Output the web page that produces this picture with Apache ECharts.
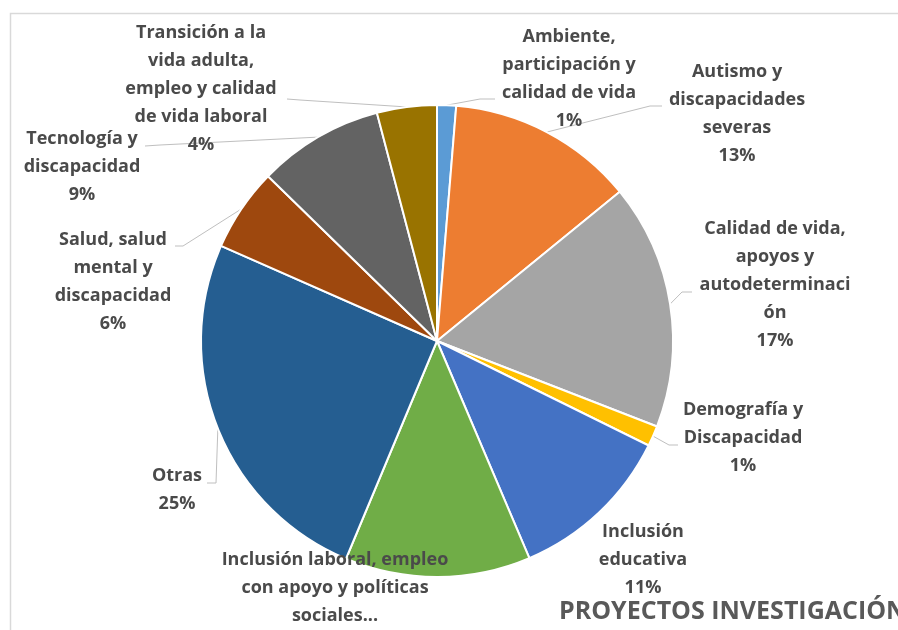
<!DOCTYPE html>
<html>
<head>
<meta charset="utf-8">
<script src="https://cdn.jsdelivr.net/npm/echarts@6/dist/echarts.min.js"></script>
<style>html,body{margin:0;padding:0;background:#fff;}#c{width:898px;height:630px;}</style>
</head>
<body>
<div id="c"></div>
<script>
// Data
const categories = [
  "Ambiente, participación y calidad de vida",
  "Autismo y discapacidades severas",
  "Calidad de vida, apoyos y autodeterminación",
  "Demografía y Discapacidad",
  "Inclusión educativa",
  "Inclusión laboral, empleo con apoyo y políticas sociales",
  "Otras",
  "Salud, salud mental y discapacidad",
  "Tecnología y discapacidad",
  "Transición a la vida adulta, empleo y calidad de vida laboral"
];
const values = [1.3, 12.8, 16.8, 1.4, 11.3, 12.7, 25.3, 5.7, 8.6, 4.1];
const labelTexts = [
  "Ambiente,\nparticipación y\ncalidad de vida",
  "Autismo y\ndiscapacidades\nseveras",
  "Calidad de vida,\napoyos y\nautodeterminaci\nón",
  "Demografía y\nDiscapacidad",
  "Inclusión\neducativa",
  "Inclusión laboral, empleo\ncon apoyo y políticas\nsociales...",
  "Otras",
  "Salud, salud\nmental y\ndiscapacidad",
  "Tecnología y\ndiscapacidad",
  "Transición a la\nvida adulta,\nempleo y calidad\nde vida laboral"
];
const showPercent = [true, true, true, true, true, false, true, true, true, true];
const colors = ["#5B9BD5", "#ED7D31", "#A5A5A5", "#FFC000", "#4472C4", "#70AD47", "#255E91", "#9E480E", "#636363", "#997300"];
const titleText = "PROYECTOS INVESTIGACIÓN";

// Layout (label anchors and leader-line bends)
const labelPos = [
  [569, 79], [737, 114], [775, 285], [743, 438], [643, 560],
  [335, 588], [177, 490], [113, 282], [82, 167], [201, 89]
];
const lineBends = [
  [[480, 99], [495, 99]],
  [[650, 106], [662, 106]],
  [[682, 292], [692, 292]],
  [[669, 445], [678, 445]],
  null,
  null,
  [[216, 483], [207, 483]],
  [[183, 246], [175, 246]],
  [[160, 145], [145, 146]],
  [[300, 100], [287, 99]]
];

const chart = echarts.init(document.getElementById('c'), null, {renderer: 'canvas'});
const data = categories.map((name, i) => ({
  name: name,
  value: values[i],
  itemStyle: {color: colors[i]},
  labelLine: {show: lineBends[i] !== null}
}));

chart.setOption({
  animation: false,
  backgroundColor: '#ffffff',
  title: {
    text: titleText,
    left: 554,
    top: 594,
    textStyle: {fontFamily: 'Open Sans', fontSize: 25, fontWeight: 'bold', color: '#595959'}
  },
  graphic: [{
    type: 'rect',
    shape: {x: 10.5, y: 13.5, width: 1000, height: 1000},
    style: {fill: 'none', stroke: '#d9d9d9', lineWidth: 1.5},
    silent: true,
    z: -1
  }],
  series: [{
    type: 'pie',
    center: [437, 341],
    radius: [0, 236],
    startAngle: 90,
    clockwise: true,
    avoidLabelOverlap: false,
    percentPrecision: 0,
    data: data,
    itemStyle: {borderColor: '#ffffff', borderWidth: 2},
    label: {
      show: true,
      position: 'outside',
      fontFamily: 'Open Sans',
      fontSize: 18,
      fontWeight: 'bold',
      color: '#4a4a4a',
      lineHeight: 28,
      align: 'center',
      formatter: function (p) {
        const t = labelTexts[p.dataIndex];
        return showPercent[p.dataIndex] ? t + '\n' + p.percent + '%' : t;
      }
    },
    labelLine: {
      show: true,
      length: 10,
      length2: 10,
      lineStyle: {color: '#bfbfbf', width: 1}
    },
    labelLayout: function (params) {
      const i = params.dataIndex;
      const pos = labelPos[i];
      const res = {x: pos[0], y: pos[1], align: 'center', verticalAlign: 'middle'};
      if (lineBends[i] && params.labelLinePoints) {
        res.labelLinePoints = [params.labelLinePoints[0], lineBends[i][0], lineBends[i][1]];
      }
      return res;
    }
  }]
});
</script>
</body>
</html>
